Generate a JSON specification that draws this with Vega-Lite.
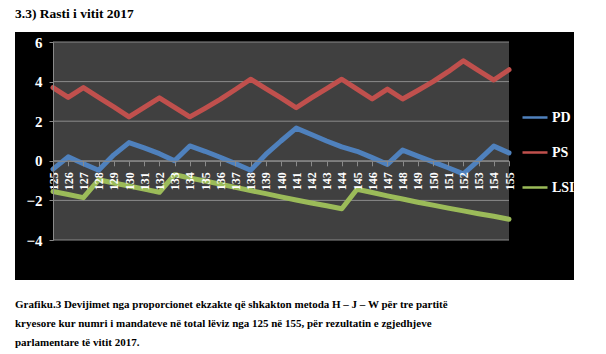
{
  "$schema": "https://vega.github.io/schema/vega-lite/v6.json",
  "background": "white",
  "padding": {"left": 15, "top": 6, "right": 5, "bottom": 5},
  "title": {"text": "3.3) Rasti i vitit 2017", "anchor": "start", "frame": "group", "font": "Liberation Serif, DejaVu Serif, serif", "fontSize": 13.5, "fontWeight": "bold", "color": "black", "offset": 12},
  "datasets": {
    "plotbg": [{"n": 125, "n2": 155, "v": -4, "v2": 6}],
    "grid": [
      {"n": 125, "n2": 155, "v": -4},
      {"n": 125, "n2": 155, "v": -2},
      {"n": 125, "n2": 155, "v": 0},
      {"n": 125, "n2": 155, "v": 2},
      {"n": 125, "n2": 155, "v": 4},
      {"n": 125, "n2": 155, "v": 6}
    ],
    "lines": [
      {"n": 125, "party": "PD", "v": -0.42}, {"n": 126, "party": "PD", "v": 0.2}, {"n": 127, "party": "PD", "v": -0.15}, {"n": 128, "party": "PD", "v": -0.48},
      {"n": 129, "party": "PD", "v": 0.3}, {"n": 130, "party": "PD", "v": 0.92}, {"n": 131, "party": "PD", "v": 0.65}, {"n": 132, "party": "PD", "v": 0.36},
      {"n": 133, "party": "PD", "v": 0.0}, {"n": 134, "party": "PD", "v": 0.75}, {"n": 135, "party": "PD", "v": 0.48}, {"n": 136, "party": "PD", "v": 0.18},
      {"n": 137, "party": "PD", "v": -0.14}, {"n": 138, "party": "PD", "v": -0.48}, {"n": 139, "party": "PD", "v": 0.32}, {"n": 140, "party": "PD", "v": 1.0},
      {"n": 141, "party": "PD", "v": 1.65}, {"n": 142, "party": "PD", "v": 1.33}, {"n": 143, "party": "PD", "v": 1.0}, {"n": 144, "party": "PD", "v": 0.7},
      {"n": 145, "party": "PD", "v": 0.48}, {"n": 146, "party": "PD", "v": 0.16}, {"n": 147, "party": "PD", "v": -0.18}, {"n": 148, "party": "PD", "v": 0.54},
      {"n": 149, "party": "PD", "v": 0.24}, {"n": 150, "party": "PD", "v": -0.05}, {"n": 151, "party": "PD", "v": -0.35}, {"n": 152, "party": "PD", "v": -0.66},
      {"n": 153, "party": "PD", "v": 0.02}, {"n": 154, "party": "PD", "v": 0.74}, {"n": 155, "party": "PD", "v": 0.4},
      {"n": 125, "party": "PS", "v": 3.7}, {"n": 126, "party": "PS", "v": 3.2}, {"n": 127, "party": "PS", "v": 3.7}, {"n": 128, "party": "PS", "v": 3.2},
      {"n": 129, "party": "PS", "v": 2.72}, {"n": 130, "party": "PS", "v": 2.22}, {"n": 131, "party": "PS", "v": 2.7}, {"n": 132, "party": "PS", "v": 3.18},
      {"n": 133, "party": "PS", "v": 2.7}, {"n": 134, "party": "PS", "v": 2.22}, {"n": 135, "party": "PS", "v": 2.65}, {"n": 136, "party": "PS", "v": 3.1},
      {"n": 137, "party": "PS", "v": 3.6}, {"n": 138, "party": "PS", "v": 4.12}, {"n": 139, "party": "PS", "v": 3.65}, {"n": 140, "party": "PS", "v": 3.18},
      {"n": 141, "party": "PS", "v": 2.68}, {"n": 142, "party": "PS", "v": 3.18}, {"n": 143, "party": "PS", "v": 3.65}, {"n": 144, "party": "PS", "v": 4.12},
      {"n": 145, "party": "PS", "v": 3.62}, {"n": 146, "party": "PS", "v": 3.12}, {"n": 147, "party": "PS", "v": 3.62}, {"n": 148, "party": "PS", "v": 3.12},
      {"n": 149, "party": "PS", "v": 3.55}, {"n": 150, "party": "PS", "v": 4.0}, {"n": 151, "party": "PS", "v": 4.5}, {"n": 152, "party": "PS", "v": 5.05},
      {"n": 153, "party": "PS", "v": 4.55}, {"n": 154, "party": "PS", "v": 4.08}, {"n": 155, "party": "PS", "v": 4.6},
      {"n": 125, "party": "LSI", "v": -1.55}, {"n": 126, "party": "LSI", "v": -1.7}, {"n": 127, "party": "LSI", "v": -1.86}, {"n": 128, "party": "LSI", "v": -0.96},
      {"n": 129, "party": "LSI", "v": -1.12}, {"n": 130, "party": "LSI", "v": -1.27}, {"n": 131, "party": "LSI", "v": -1.43}, {"n": 132, "party": "LSI", "v": -1.59},
      {"n": 133, "party": "LSI", "v": -0.7}, {"n": 134, "party": "LSI", "v": -0.87}, {"n": 135, "party": "LSI", "v": -1.02}, {"n": 136, "party": "LSI", "v": -1.18},
      {"n": 137, "party": "LSI", "v": -1.34}, {"n": 138, "party": "LSI", "v": -1.5}, {"n": 139, "party": "LSI", "v": -1.66}, {"n": 140, "party": "LSI", "v": -1.82},
      {"n": 141, "party": "LSI", "v": -1.98}, {"n": 142, "party": "LSI", "v": -2.13}, {"n": 143, "party": "LSI", "v": -2.27}, {"n": 144, "party": "LSI", "v": -2.42},
      {"n": 145, "party": "LSI", "v": -1.44}, {"n": 146, "party": "LSI", "v": -1.6}, {"n": 147, "party": "LSI", "v": -1.77}, {"n": 148, "party": "LSI", "v": -1.93},
      {"n": 149, "party": "LSI", "v": -2.09}, {"n": 150, "party": "LSI", "v": -2.24}, {"n": 151, "party": "LSI", "v": -2.39}, {"n": 152, "party": "LSI", "v": -2.53},
      {"n": 153, "party": "LSI", "v": -2.67}, {"n": 154, "party": "LSI", "v": -2.8}, {"n": 155, "party": "LSI", "v": -2.95}
    ]
  },
  "vconcat": [
    {
      "width": 559,
      "height": 248,
      "title": {
        "text": [
          "Grafiku.3  Devijimet nga proporcionet ekzakte që shkakton metoda  H – J – W  për  tre partitë",
          "kryesore  kur  numri i  mandateve në total lëviz  nga 125 në 155, për  rezultatin  e zgjedhjeve",
          "parlamentare  të  vitit 2017."
        ],
        "orient": "bottom",
        "anchor": "start",
        "frame": "group",
        "font": "Liberation Serif, DejaVu Serif, serif",
        "fontSize": 11,
        "fontWeight": "bold",
        "color": "black",
        "lineHeight": 19,
        "offset": 19
      },
      "encoding": {
        "x": {
          "field": "n",
          "type": "quantitative",
          "scale": {"domain": [125, 155], "range": [38, 494], "nice": false, "zero": false},
          "axis": {
            "orient": "bottom",
            "offset": -119.2,
            "zindex": 1,
            "values": [125, 126, 127, 128, 129, 130, 131, 132, 133, 134, 135, 136, 137, 138, 139, 140, 141, 142, 143, 144, 145, 146, 147, 148, 149, 150, 151, 152, 153, 154, 155],
            "format": "d",
            "labelAngle": -90,
            "labelAlign": "right",
            "labelBaseline": "middle",
            "labelFont": "Liberation Serif, DejaVu Serif, serif",
            "labelFontWeight": "bold",
            "labelFontSize": 12,
            "labelColor": "white",
            "labelPadding": 6,
            "labelOverlap": false,
            "labelFlush": false,
            "tickSize": 5,
            "tickColor": "#8a8a8a",
            "domainColor": "#8a8a8a",
            "grid": false,
            "title": null
          }
        },
        "y": {
          "field": "v",
          "type": "quantitative",
          "scale": {"domain": [-4, 6], "range": [208, 10], "nice": false, "zero": false},
          "axis": {
            "orient": "left",
            "offset": -38,
            "zindex": 1,
            "values": [-4, -2, 0, 2, 4, 6],
            "labelFont": "Liberation Serif, DejaVu Serif, serif",
            "labelFontWeight": "bold",
            "labelFontSize": 15,
            "labelColor": "white",
            "labelPadding": 7,
            "tickSize": 4,
            "tickColor": "#8a8a8a",
            "domainColor": "#8a8a8a",
            "grid": false,
            "title": null
          }
        }
      },
      "layer": [
        {
          "data": {"name": "plotbg"},
          "mark": {"type": "rect", "color": "#404040"},
          "encoding": {"x2": {"field": "n2"}, "y2": {"field": "v2"}}
        },
        {
          "data": {"name": "grid"},
          "mark": {"type": "rule", "color": "#8a8a8a", "strokeWidth": 1},
          "encoding": {"x2": {"field": "n2"}}
        },
        {
          "data": {"name": "lines"},
          "mark": {"type": "line", "strokeWidth": 5, "strokeJoin": "round", "strokeCap": "round"},
          "encoding": {
            "color": {
              "field": "party",
              "type": "nominal",
              "scale": {"domain": ["PD", "PS", "LSI"], "range": ["#4F81BD", "#C0504D", "#9BBB59"]},
              "legend": {
                "orient": "none",
                "legendX": 506,
                "legendY": 71.5,
                "title": null,
                "padding": 0,
                "symbolType": "stroke",
                "symbolSize": 625,
                "symbolStrokeWidth": 2.5,
                "labelFont": "Liberation Serif, DejaVu Serif, serif",
                "labelFontWeight": "bold",
                "labelFontSize": 14,
                "labelColor": "white",
                "labelOffset": 3,
                "rowPadding": 14
              }
            }
          }
        }
      ]
    }
  ],
  "config": {
    "view": {"fill": "black", "stroke": null}
  }
}
